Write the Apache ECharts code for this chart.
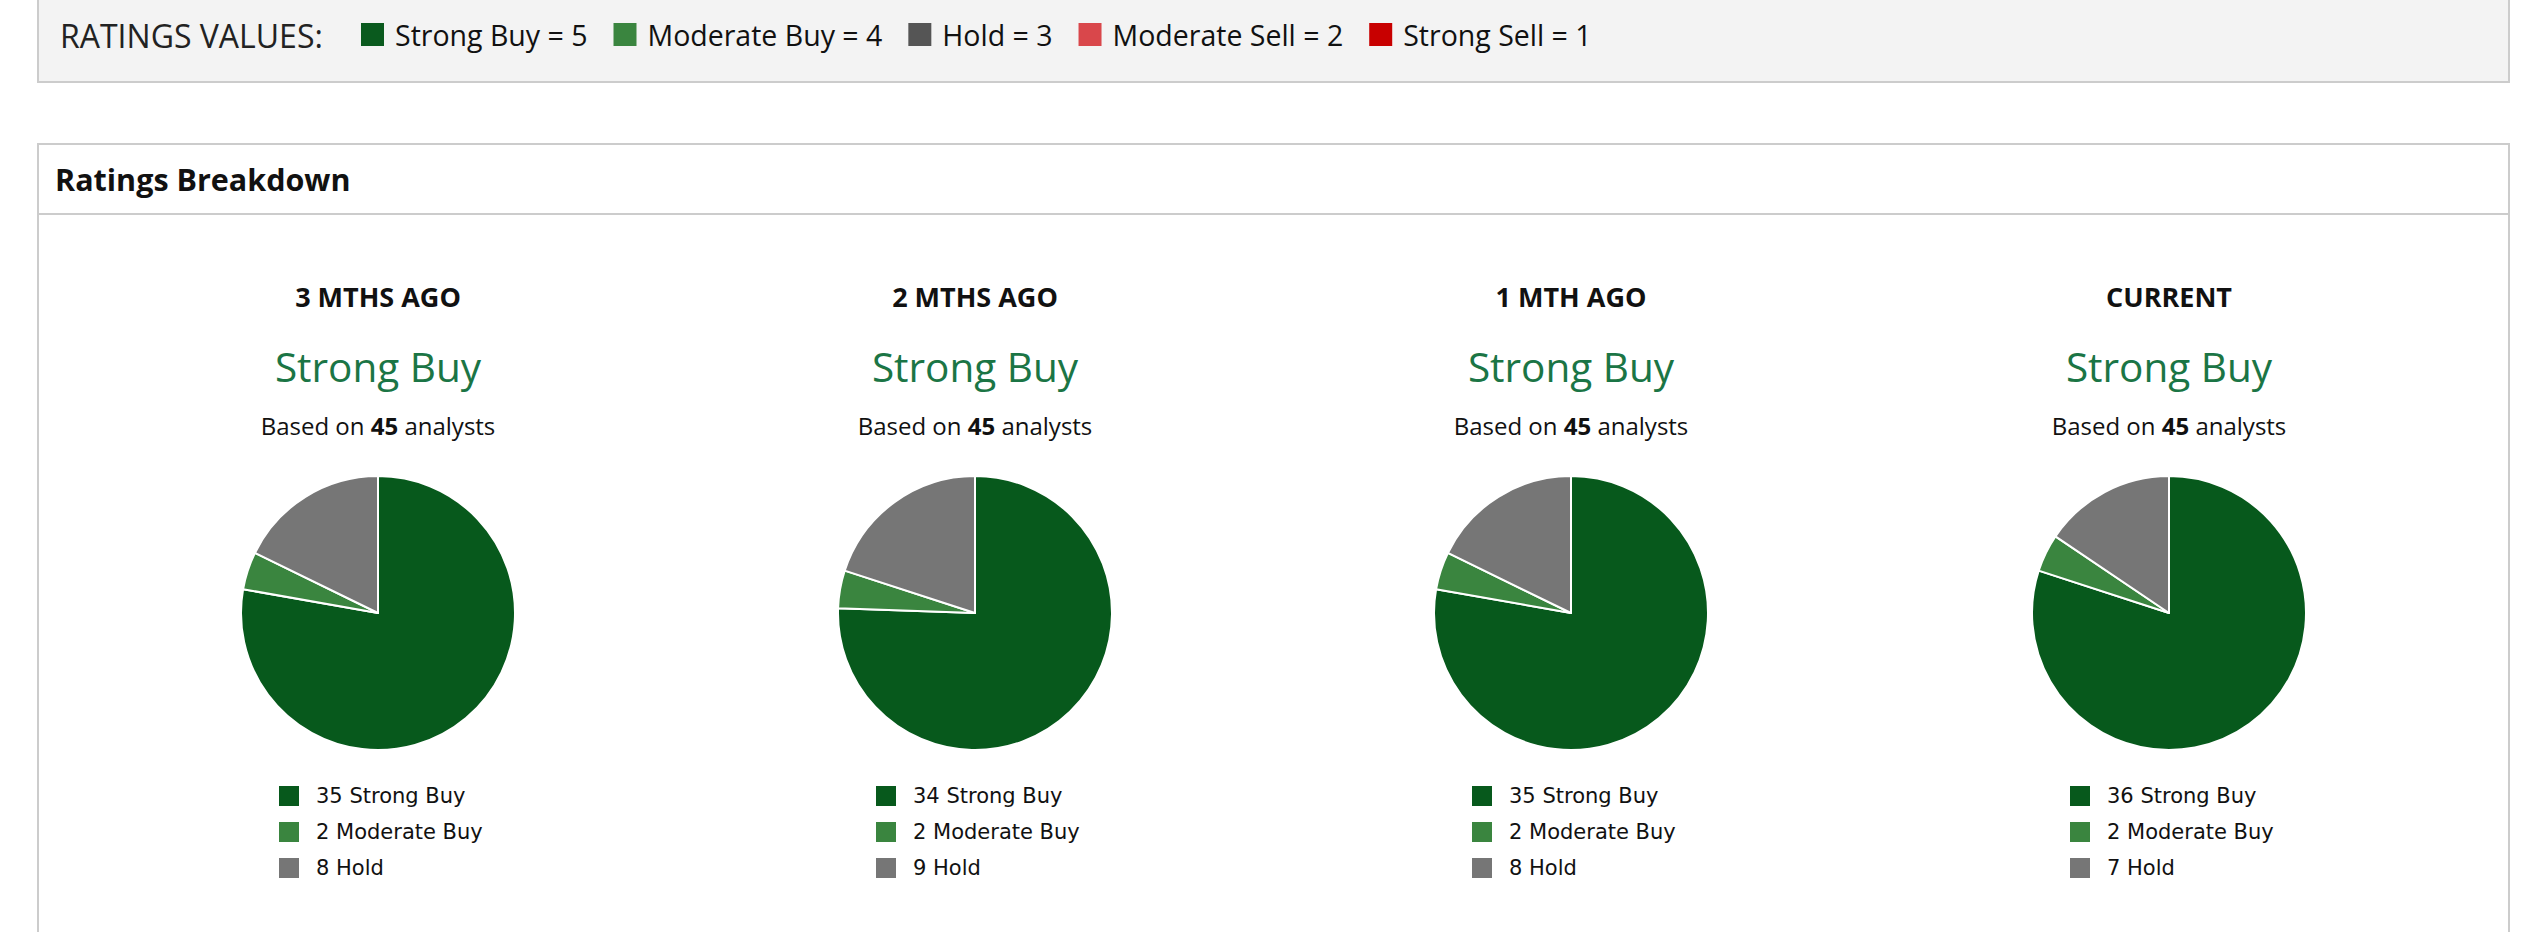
<!DOCTYPE html>
<html>
<head>
<meta charset="utf-8">
<script src="https://cdn.jsdelivr.net/npm/echarts@6/dist/echarts.min.js"></script>
<style>
  html, body { margin: 0; padding: 0; background: #fff; }
  #chart { width: 2522px; height: 932px; }
</style>
</head>
<body>
<div id="chart"></div>
<script>
// ratings per period
const periods = ['3 MTHS AGO', '2 MTHS AGO', '1 MTH AGO', 'CURRENT'];
const consensus = ['Strong Buy', 'Strong Buy', 'Strong Buy', 'Strong Buy'];
const analysts = [45, 45, 45, 45];
const ratingNames = ['Strong Buy', 'Moderate Buy', 'Hold'];
const strongBuy = [35, 34, 35, 36];
const moderateBuy = [2, 2, 2, 2];
const hold = [8, 9, 8, 7];

// key at the top
const keyLabels = ['Strong Buy = 5', 'Moderate Buy = 4', 'Hold = 3', 'Moderate Sell = 2', 'Strong Sell = 1'];
const keyColors = ['#0a5a1e', '#3a853f', '#555555', '#d9474b', '#c80000'];
const pieColors = ['#07591c', '#3a853f', '#767676'];

const chart = echarts.init(document.getElementById('chart'), null, { renderer: 'svg' });

const FONT = '"Open Sans", "Noto Sans", sans-serif';
const colX = [378, 975, 1571, 2169];
const pieY = 613;

// measure key text so items line up one after the other
const ctx = document.createElement('canvas').getContext('2d');
ctx.font = '28.5px "Open Sans"';

const graphics = [
    { type: 'rect', shape: { x: 38, y: -4, width: 2471, height: 86 },
      style: { fill: '#f3f3f3', stroke: '#cccccc', lineWidth: 2 } },
    { type: 'text', x: 60, y: 35,
      style: { text: 'RATINGS VALUES:', font: '32px ' + FONT, fill: '#222', verticalAlign: 'middle' } },
    { type: 'rect', shape: { x: 38, y: 144, width: 2471, height: 820 },
      style: { fill: '#fff', stroke: '#cccccc', lineWidth: 2 } },
    { type: 'line', shape: { x1: 38, y1: 214, x2: 2509, y2: 214 },
      style: { stroke: '#cccccc', lineWidth: 2 } },
    { type: 'text', x: 55, y: 179,
      style: { text: 'Ratings Breakdown', font: 'bold 30.5px ' + FONT, fill: '#111', verticalAlign: 'middle' } }
];

let kx = 361;
keyLabels.forEach((lbl, i) => {
    graphics.push({ type: 'rect', shape: { x: kx, y: 23, width: 23, height: 23 }, style: { fill: keyColors[i] } });
    graphics.push({ type: 'text', x: kx + 34, y: 35,
        style: { text: lbl, font: '28.5px ' + FONT, fill: '#111', verticalAlign: 'middle' } });
    kx += 34 + ctx.measureText(lbl).width + 26;
});

const series = [];
const legends = [];
periods.forEach((p, i) => {
    const cx = colX[i];
    graphics.push({ type: 'text', x: cx, y: 296,
        style: { text: p, font: 'bold 27px ' + FONT, fill: '#111', align: 'center', verticalAlign: 'middle' } });
    graphics.push({ type: 'text', x: cx, y: 366,
        style: { text: consensus[i], font: '40.5px ' + FONT, fill: '#1b7545', align: 'center', verticalAlign: 'middle' } });
    graphics.push({ type: 'text', x: cx, y: 425,
        style: {
            text: 'Based on {b|' + analysts[i] + '} analysts',
            font: '24px ' + FONT, fill: '#111', align: 'center', verticalAlign: 'middle',
            rich: { b: { font: 'bold 24px ' + FONT, fill: '#111' } }
        } });

    const counts = [strongBuy[i], moderateBuy[i], hold[i]];
    series.push({
        type: 'pie',
        name: p,
        center: [cx, pieY],
        radius: 137,
        startAngle: 90,
        clockwise: true,
        label: { show: false },
        labelLine: { show: false },
        emphasis: { disabled: true },
        itemStyle: { borderColor: '#fff', borderWidth: 2 },
        data: ratingNames.map((n, j) => ({ name: n, value: counts[j], itemStyle: { color: pieColors[j] } }))
    });
    legends.push({
        orient: 'vertical',
        left: cx - 101,
        top: 784,
        padding: 0,
        itemWidth: 22,
        itemHeight: 22,
        itemGap: 12,
        icon: 'rect',
        selectedMode: false,
        data: ratingNames,
        formatter: n => counts[ratingNames.indexOf(n)] + ' ' + n,
        textStyle: {
            fontFamily: '"DejaVu Sans", sans-serif', fontSize: 21, lineHeight: 22,
            color: '#111', padding: [0, 0, 0, 11]
        }
    });
});

chart.setOption({
    animation: false,
    color: pieColors,
    tooltip: { show: false },
    legend: legends,
    graphic: graphics,
    series: series
});
</script>
</body>
</html>
